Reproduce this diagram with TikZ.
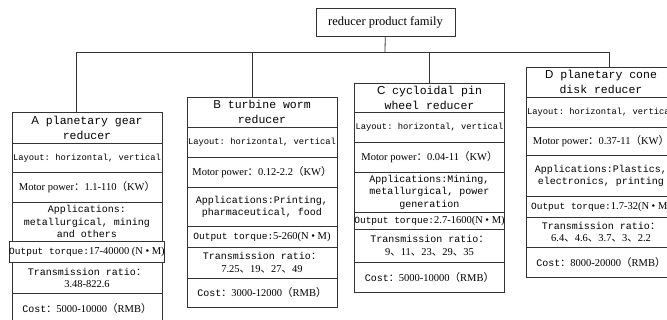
\documentclass[tikz,border=0pt]{standalone}
\usepackage{fontspec}
\setmainfont{Liberation Serif}
\setsansfont{Liberation Sans}
\setmonofont{Liberation Mono}
\newfontfamily\cjkfont{Noto Sans CJK SC}
\usetikzlibrary{positioning}
\newcommand{\zc}{{\cjkfont ：}}
\newcommand{\zl}{{\cjkfont （}}
\newcommand{\zr}{{\cjkfont ）}}
\newcommand{\zd}{{\cjkfont 、}}
\newcommand{\num}[1]{{\rmfamily\fontsize{10.5}{12.5}\selectfont #1}}

\begin{document}
\begin{tikzpicture}[
    x=1pt, y=-1pt, line width=0.8pt,
    cell/.style = {rectangle, draw=black!80, minimum width=150pt, anchor=north, align=center, inner sep=0pt, font=\ttfamily\fontsize{10}{12.5}\selectfont},
    head/.style = {cell, font=\ttfamily\fontsize{11.5}{15}\selectfont},
    layout/.style = {cell, font=\ttfamily\fontsize{8.8}{10}\selectfont},
    power/.style = {cell, font=\rmfamily\fontsize{10.5}{12}\selectfont},
    torque/.style = {cell, font=\ttfamily\fontsize{9.5}{11}\selectfont}
]
    \useasboundingbox (0,0) rectangle (667,320);
    \node[draw=black!80, minimum width=139pt, minimum height=28pt, font=\rmfamily\fontsize{12.5}{14}\selectfont] (family) at (385.5,22) {reducer product family};
    % A
    \node[head, minimum height=31pt] (A-title) at (87,112) {{\sffamily\fontsize{11.5}{15}\selectfont A} planetary gear\\reducer};
    \node[layout, minimum height=29pt] (A-layout) at (87,143) {Layout: horizontal, vertical};
    \node[power, minimum height=30pt] (A-power) at (87,172) {Motor power\zc 1.1-110\zl KW\zr};
    \node[cell, minimum height=39pt] (A-app) at (87,202) {Applications:\\metallurgical, mining\\and others};
    \node[torque, minimum height=21pt] (A-torque) at (87,241) {Output torque:\num{17-40000 (N • M)}};
    \node[cell, minimum height=31pt] (A-ratio) at (87,262) {Transmission ratio\zc\\\num{3.48-822.6}};
    \node[cell, minimum height=30pt] (A-cost) at (87,293) {Cost\zc\num{5000-10000\zl RMB\zr}};
    % B
    \node[head, minimum height=30pt] (B-title) at (262,97) {{\sffamily\fontsize{11.5}{15}\selectfont B} turbine worm\\reducer};
    \node[layout, minimum height=30pt] (B-layout) at (262,127) {Layout: horizontal, vertical};
    \node[power, minimum height=30pt] (B-power) at (262,157) {Motor power\zc 0.12-2.2\zl KW\zr};
    \node[cell, minimum height=39pt] (B-app) at (262,187) {Applications:Printing,\\pharmaceutical, food};
    \node[torque, minimum height=21pt] (B-torque) at (262,226) {Output torque:\num{5-260(N • M)}};
    \node[cell, minimum height=31pt] (B-ratio) at (262,247) {Transmission ratio\zc\\\num{7.25\zd 19\zd 27\zd 49}};
    \node[cell, minimum height=29pt] (B-cost) at (262,278) {Cost\zc\num{3000-12000\zl RMB\zr}};
    % C
    \node[head, minimum height=29pt] (C-title) at (429.5,83) {{\sffamily\fontsize{11.5}{15}\selectfont C} cycloidal pin\\wheel reducer};
    \node[layout, minimum height=30pt] (C-layout) at (429.5,112) {Layout: horizontal, vertical};
    \node[power, minimum height=30pt] (C-power) at (429.5,142) {Motor power\zc 0.04-11\zl KW\zr};
    \node[cell, minimum height=40pt] (C-app) at (429.5,172) {Applications:Mining,\\metallurgical, power\\generation};
    \node[torque, minimum height=17pt] (C-torque) at (429.5,212) {Output torque:\num{2.7-1600(N • M)}};
    \node[cell, minimum height=33pt] (C-ratio) at (429.5,229) {Transmission ratio\zc\\\num{9\zd 11\zd 23\zd 29\zd 35}};
    \node[cell, minimum height=30pt] (C-cost) at (429.5,262) {Cost\zc\num{5000-10000\zl RMB\zr}};
    % D
    \node[head, minimum height=30pt] (D-title) at (601,67) {{\sffamily\fontsize{11.5}{15}\selectfont D} planetary cone\\disk reducer};
    \node[layout, minimum height=30pt] (D-layout) at (601,97) {Layout: horizontal, vertical};
    \node[power, minimum height=28pt] (D-power) at (601,127) {Motor power\zc 0.37-11\zl KW\zr};
    \node[cell, minimum height=41pt] (D-app) at (601,155) {Applications:Plastics,\\electronics, printing};
    \node[torque, minimum height=21pt] (D-torque) at (601,196) {Output torque:\num{1.7-32(N • M)}};
    \node[cell, minimum height=30pt] (D-ratio) at (601,217) {Transmission ratio\zc\\\num{6.4\zd 4.6\zd 3.7\zd 3\zd 2.2}};
    \node[cell, minimum height=30pt] (D-cost) at (601,247) {Cost\zc\num{8000-20000\zl RMB\zr}};
    % tree
    \coordinate (bus) at (385,52);
    \draw[black!80] (family) -- (bus);
    \draw[black!80] ([xshift=-11pt]A-title.north) |- (bus);
    \draw[black!80] ([xshift=-10pt]B-title.north) |- (bus);
    \draw[black!80] (C-title.north) |- (bus);
    \draw[black!80] ([xshift=8pt]D-title.north) |- (bus);
\end{tikzpicture}
\end{document}
